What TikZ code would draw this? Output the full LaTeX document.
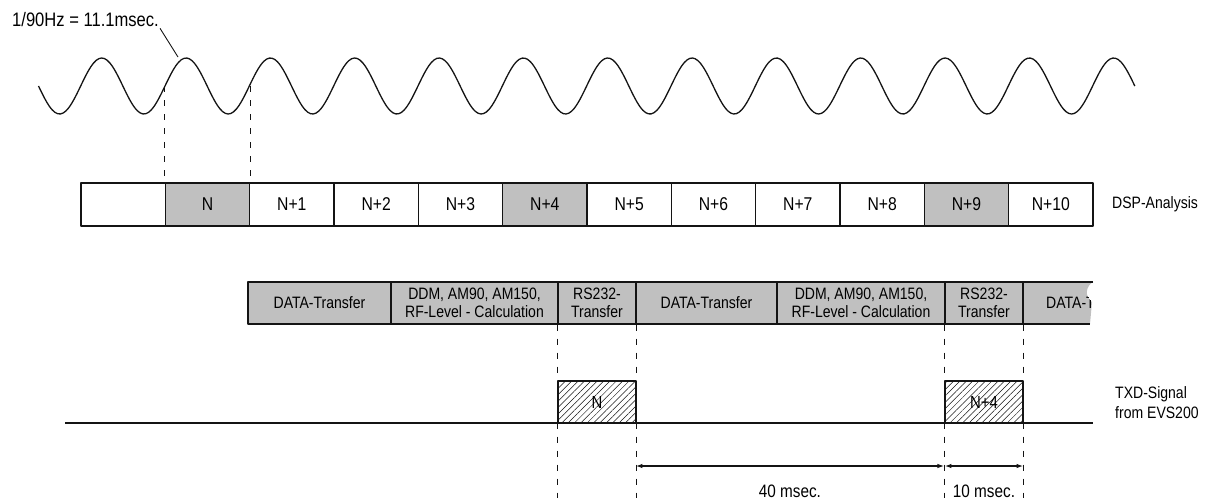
\documentclass[tikz,border=0pt]{standalone}
\usepackage{fontspec}
\setmainfont{Liberation Sans}[FakeStretch=0.85]
\usetikzlibrary{arrows.meta,patterns.meta,calc}
\newcommand{\Unit}{1pt}
\newcommand{\Cell}{84.33}
\newcommand{\Edge}{1.1pt}
\definecolor{boxgray}{HTML}{C0C0C0}
\definecolor{ink}{HTML}{141414}

\tikzset{
  cell/.style={draw=ink, line width=\Edge, minimum width=\Cell pt, minimum height=43pt,
    inner sep=0pt, font=\fontsize{18.5}{20}\selectfont},
  stage/.style={draw=ink, fill=boxgray, line width=\Edge, minimum height=42pt, inner sep=0pt,
    align=center, font=\fontsize{16.5}{17.5}\selectfont},
  guide/.style={draw=ink, line width=0.8pt, dash pattern=on 6pt off 8pt},
  pulse/.style={draw=ink, line width=\Edge, pattern={Lines[angle=45,distance=4.5pt,line width=0.5pt]},
    pattern color=ink, minimum width=78pt, minimum height=42pt, inner sep=0pt,
    font=\fontsize{17.5}{19}\selectfont},
  dim/.style={{Latex[length=7pt,width=4.5pt]}-{Latex[length=7pt,width=4.5pt]}, line width=1.8pt, ink},
  side/.style={anchor=west, inner sep=0pt, align=left, font=\fontsize{16.5}{20}\selectfont},
}

\begin{document}
\begin{tikzpicture}[x=\Unit,y=-\Unit, line join=round]
  \useasboundingbox (0,0) rectangle (1208,501);

  % ---- the 90 Hz reference wave ---------------------------------------------
  \draw[ink,line width=1.3pt] plot[domain=38.5:1134.8, samples=400, smooth]
    (\x,{86-28*sin((\x-165)/\Cell*360)});
  \coordinate (wavemid) at (0,86);
  \coordinate (peak) at (178,57);
  \node[anchor=west, inner sep=1pt, font=\fontsize{19.5}{21}\selectfont] (period) at (11,20) {1/90Hz = 11.1msec.};
  \draw[ink,line width=0.9pt] (period.south east) -- (peak);

  % ---- DSP analysis frames --------------------------------------------------
  \foreach \i/\txt/\col in {0//white, 1/N/boxgray, 2/N+1/white, 3/N+2/white, 4/N+3/white,
      5/N+4/boxgray, 6/N+5/white, 7/N+6/white, 8/N+7/white, 9/N+8/white, 10/N+9/boxgray, 11/N+10/white} {
    \pgfmathsetmacro\x{81+(\i+0.5)*\Cell}
    \node[cell, fill=\col] (c\i) at (\x,204.5) {\txt};
  }
  \node[side] (dsp) at (1112,204) {DSP-Analysis};
  \draw[guide] (c1.north west |- wavemid) -- (c1.north west);
  \draw[guide] (c1.north east |- wavemid) -- (c1.north east);

  % ---- processing stages ----------------------------------------------------
  \foreach \name/\xa/\xb/\txt in {l1/248/391/DATA-Transfer,
      l2/391/558/{DDM, AM90, AM150,\\RF-Level - Calculation},
      l3/558/636/{RS232-\\Transfer},
      l4/636/777/DATA-Transfer,
      l5/777/945/{DDM, AM90, AM150,\\RF-Level - Calculation},
      l6/945/1023/{RS232-\\Transfer}} {
    \pgfmathsetmacro\w{\xb-\xa}
    \pgfmathsetmacro\x{(\xa+\xb)/2}
    \node[stage, minimum width=\w pt] (\name) at (\x,303) {\txt};
  }
  % Torn-off last stage.
  \fill[boxgray] (1023,282) -- (1093,282) .. controls (1086,286) and (1084,296) .. (1092,302)
    -- (1090,324) -- (1023,324) -- cycle;
  \begin{scope}
    \clip (1023,282) -- (1093,282) .. controls (1086,286) and (1084,296) .. (1092,302)
      -- (1090,324) -- (1023,324) -- cycle;
    \node[anchor=west, inner sep=0pt, font=\fontsize{16.5}{17.5}\selectfont] (l7) at (1046,303) {DATA-Transfer};
  \end{scope}
  \draw[ink,line width=\Edge] (1093,282) -- (1023,282) -- (1023,324) -- (1090,324);

  % ---- TXD signal -----------------------------------------------------------
  \coordinate (dimrow) at (0,466);
  \coordinate (dimfoot) at (0,498);
  \foreach \name in {l3,l6} {
    \draw[guide] (\name.south west) -- (\name.south west |- dimfoot);
    \draw[guide] (\name.south east) -- (\name.south east |- dimfoot);
  }
  \node[pulse] (txa) at (597,402) {N};
  \node[pulse] (txb) at (984,402) {N+4};
  \coordinate (txdstart) at (65,423);
  \coordinate (txdend) at (1093,423);
  \draw[ink,line width=2pt] (txdstart) -- (txdend);
  \node[side] (txd) at (1115,403) {TXD-Signal\\from EVS200};

  % ---- timing ---------------------------------------------------------------
  \draw[dim] (l4.south west |- dimrow) -- (l6.south west |- dimrow);
  \draw[dim] (l6.south west |- dimrow) -- (l6.south east |- dimrow);
  \node[font=\fontsize{18}{20}\selectfont] (t40) at ($(l4.south west |- dimfoot)!0.5!(l6.south west |- dimfoot)+(0,-7)$) {40 msec.};
  \node[font=\fontsize{18}{20}\selectfont] (t10) at ($(l6.south west |- dimfoot)!0.5!(l6.south east |- dimfoot)+(0,-7)$) {10 msec.};

\end{tikzpicture}
\end{document}
